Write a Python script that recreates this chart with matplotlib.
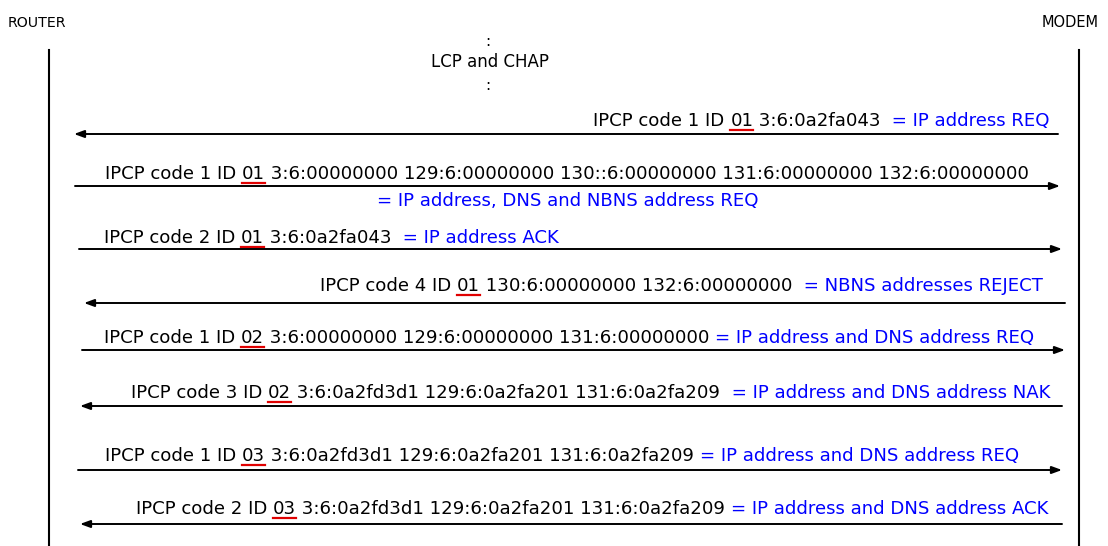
import matplotlib.pyplot as plt

# message data (top to bottom)
directions = ['left', 'right', 'right', 'left', 'right', 'left', 'right', 'left']
codes = ['1', '1', '2', '4', '1', '3', '1', '2']
ids = ['01', '01', '01', '01', '02', '02', '03', '03']
options = [
    '3:6:0a2fa043',
    '3:6:00000000 129:6:00000000 130::6:00000000 131:6:00000000 132:6:00000000',
    '3:6:0a2fa043',
    '130:6:00000000 132:6:00000000',
    '3:6:00000000 129:6:00000000 131:6:00000000',
    '3:6:0a2fd3d1 129:6:0a2fa201 131:6:0a2fa209',
    '3:6:0a2fd3d1 129:6:0a2fa201 131:6:0a2fa209',
    '3:6:0a2fd3d1 129:6:0a2fa201 131:6:0a2fa209',
]
meanings = [
    '= IP address REQ',
    '= IP address, DNS and NBNS address REQ',
    '= IP address ACK',
    '= NBNS addresses REJECT',
    '= IP address and DNS address REQ',
    '= IP address and DNS address NAK',
    '= IP address and DNS address REQ',
    '= IP address and DNS address ACK',
]
meaning_below = [False, True, False, False, False, False, False, False]
wide_gap = [True, True, True, True, False, True, False, False]

# layout (pixel coordinates, y downwards)
arrow_y = [134, 186, 249, 303, 350, 406, 470, 524]
text_base = [126, 179, 243, 291, 343, 398, 461, 514]
arrow_x = [(1058, 74), (75, 1060), (79, 1062), (1065, 84),
           (82, 1065), (1062, 80), (78, 1062), (1062, 80)]
text_anchor = [1050, 105, 104, 1043, 104, 1050, 105, 1048]

FS = 13.1
BLUE = '#0000ff'
RED = '#e00000'
font = dict(fontsize=FS, family='DejaVu Sans', va='baseline')

fig = plt.figure(figsize=(11.08, 5.46), dpi=100)
ax = fig.add_axes([0, 0, 1, 1])
ax.set_xlim(0, 1108)
ax.set_ylim(546, 0)
ax.axis('off')

# lifelines
ax.text(8, 27, 'ROUTER', fontsize=10.2, va='baseline')
ax.text(1099, 27, 'MODEM', ha='right', fontsize=10.5, va='baseline')
ax.plot([49, 49], [50, 546], color='black', lw=1.5)
ax.plot([1079, 1079], [50, 546], color='black', lw=1.5)

# LCP and CHAP
ax.text(488, 41, ':', ha='center', va='center', fontsize=11)
ax.text(490, 62, 'LCP and CHAP', ha='center', va='center', fontsize=12)
ax.text(488, 85, ':', ha='center', va='center', fontsize=11)

id_texts = []
for i in range(len(directions)):
    pieces = [('IPCP code %s ID ' % codes[i], 'black'),
              (ids[i], 'black'),
              (' ' + options[i] + ' ', 'black')]
    if not meaning_below[i]:
        gap = ' ' if wide_gap[i] else ''
        pieces.append((gap + meanings[i], BLUE))
    y = text_base[i]
    arts = []
    if directions[i] == 'right':
        prev = None
        for s, c in pieces:
            if prev is None:
                t = ax.text(text_anchor[i], y, s, color=c, ha='left', **font)
            else:
                t = ax.annotate(s, xy=(1, 0), xycoords=prev, color=c,
                                ha='left', fontsize=FS, family='DejaVu Sans',
                                va='bottom')
            arts.append(t)
            prev = t
    else:
        prev = None
        for s, c in reversed(pieces):
            if prev is None:
                t = ax.text(text_anchor[i], y, s, color=c, ha='right', **font)
            else:
                t = ax.annotate(s, xy=(0, 0), xycoords=prev, color=c,
                                ha='right', fontsize=FS, family='DejaVu Sans',
                                va='bottom')
            arts.insert(0, t)
            prev = t
    id_texts.append(arts[1])
    if meaning_below[i]:
        ax.text(sum(arrow_x[i]) / 2, y + 27, meanings[i], color=BLUE,
                ha='center', **font)

    x0, x1 = arrow_x[i]
    ax.annotate('', xy=(x1, arrow_y[i]), xytext=(x0, arrow_y[i]),
                arrowprops=dict(arrowstyle='-|>,head_length=0.6,head_width=0.22',
                                color='black', lw=1.4, mutation_scale=10,
                                shrinkA=0, shrinkB=0))

# red underline under the ID values
fig.canvas.draw()
inv = ax.transData.inverted()
for t, y in zip(id_texts, text_base):
    bb = t.get_window_extent()
    (xa, _), (xb, _) = inv.transform([[bb.x0, bb.y0], [bb.x1, bb.y1]])
    ax.plot([xa, xb], [y + 3.5, y + 3.5], color=RED, lw=1.6)

fig.savefig('out.png', dpi=100)
